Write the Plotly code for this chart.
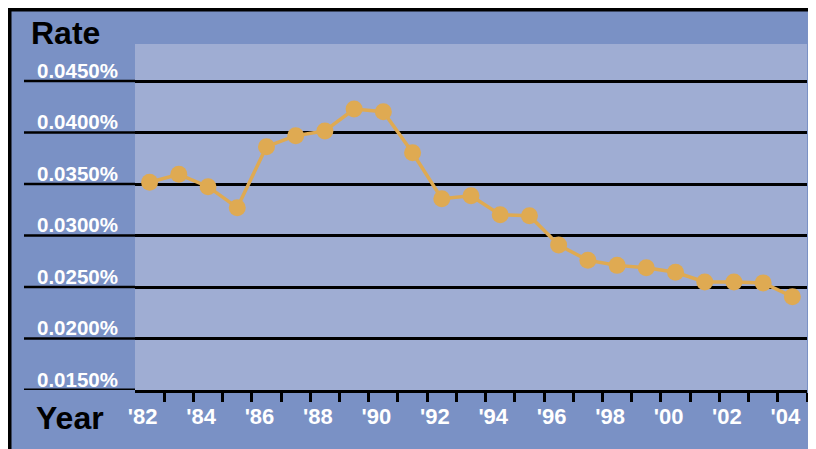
import plotly.graph_objects as go

years = list(range(1982, 2005))
rates = [0.03517, 0.03594, 0.03474, 0.03270, 0.03862, 0.03969, 0.04015, 0.04228,
         0.04202, 0.03804, 0.03357, 0.03386, 0.03202, 0.03192, 0.02908, 0.02759,
         0.02710, 0.02687, 0.02643, 0.02549, 0.02549, 0.02540, 0.02406]
label_years = list(range(1982, 2005, 2))
label_text = ["'%02d" % (y % 100) for y in label_years]
y_ticks = [0.015, 0.020, 0.025, 0.030, 0.035, 0.040, 0.045]
y_labels = ["%.4f%%" % v for v in y_ticks]

W, H = 816, 449
L, R, T, B = 127, 17, 36, 67
PW, PH = W - L - R, H - T - B

def xp(px):
    return (px - L) / PW

def yp(py):
    return (H - B - py) / PH

FRAME = "#7A91C5"
PLOT = "#9FADD3"
ORANGE = "#DFAA52"
FONT = "Liberation Sans, Arial, sans-serif"

fig = go.Figure()
fig.add_trace(go.Scatter(
    x=years, y=rates, mode="lines+markers",
    line=dict(color=ORANGE, width=3.5),
    marker=dict(color=ORANGE, size=17),
    hoverinfo="skip", showlegend=False,
))

shapes = []
# black border around the figure
shapes.append(dict(type="rect", xref="paper", yref="paper", x0=xp(1.5), x1=xp(W - 1.5), y0=yp(1.5), y1=yp(H - 1.5),
                   line=dict(color="black", width=4), fillcolor="rgba(0,0,0,0)", layer="above"))
# gridline extensions into the label area
for v in y_ticks:
    shapes.append(dict(type="line", xref="paper", yref="y", x0=xp(16), x1=0, y0=v, y1=v,
                       line=dict(color="black", width=2.5 if v > 0.015 else 3), layer="above"))

annotations = []
for v, t in zip(y_ticks, y_labels):
    annotations.append(dict(xref="paper", yref="y", x=xp(27), y=v, text=t, showarrow=False,
                            xanchor="left", yanchor="middle", yshift=11,
                            font=dict(family=FONT, size=20.5, color="white", weight="bold")))
annotations.append(dict(xref="paper", yref="paper", x=xp(21), y=yp(25), text="Rate", showarrow=False,
                        xanchor="left", yanchor="middle",
                        font=dict(family=FONT, size=32, color="black", weight="bold")))
annotations.append(dict(xref="paper", yref="paper", x=xp(26), y=yp(410), text="Year", showarrow=False,
                        xanchor="left", yanchor="middle",
                        font=dict(family=FONT, size=32, color="black", weight="bold")))

fig.update_layout(
    width=W, height=H,
    margin=dict(l=L, r=R, t=T, b=B),
    paper_bgcolor=FRAME, plot_bgcolor=PLOT,
    shapes=shapes, annotations=annotations,
    xaxis=dict(
        range=[1981.5, 2004.5], tickmode="array", tickvals=label_years, ticktext=label_text,
        ticks="", showgrid=False, zeroline=False,
        showline=True, linecolor="black", linewidth=3,
        tickfont=dict(family=FONT, size=22, color="white", weight="bold"),
        ticklabelshift=-7, ticklabelstandoff=5,
        minor=dict(tickmode="array", tickvals=[y + 0.5 for y in years], ticks="outside",
                   ticklen=9, tickwidth=3, tickcolor="black", showgrid=False),
    ),
    yaxis=dict(
        range=[0.015, 0.015 + PH / 51.5 * 0.005], tickmode="array", tickvals=y_ticks,
        showticklabels=False, ticks="", showgrid=True, gridcolor="black", gridwidth=2.5,
        zeroline=False, showline=False,
    ),
)
fig.write_html("out.html")
